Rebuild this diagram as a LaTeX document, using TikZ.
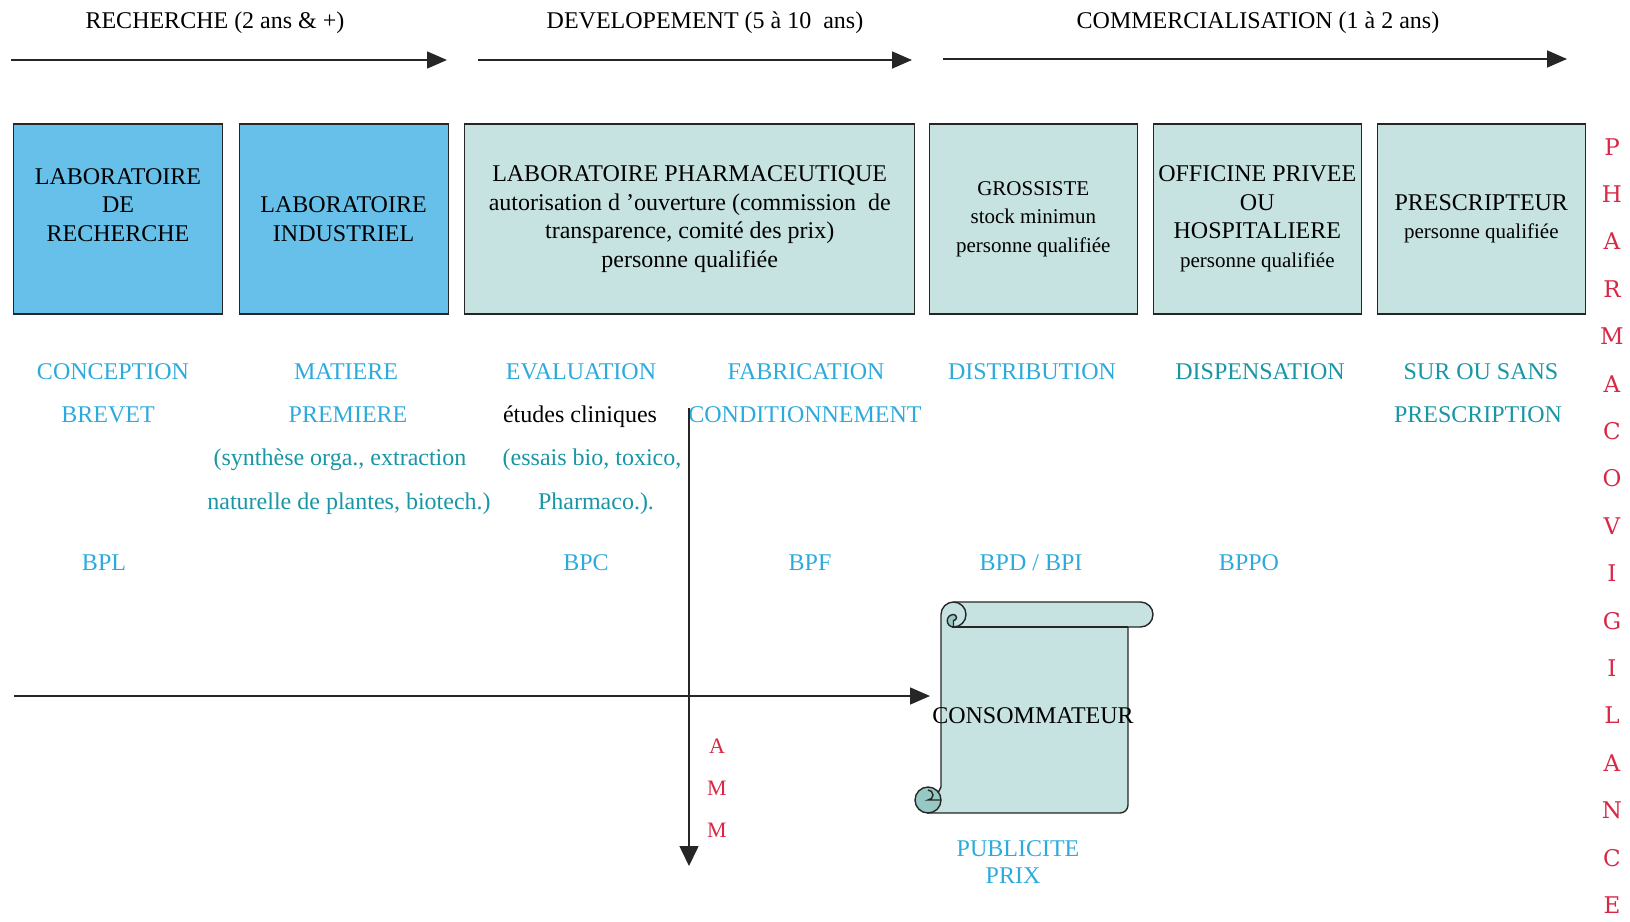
\documentclass[tikz,border=0pt]{standalone}
\usepackage{fontspec}
\setmainfont{Liberation Serif}
\newfontfamily\vigfont{DejaVu Serif}
\usetikzlibrary{arrows.meta, positioning}
\definecolor{boxblue}{RGB}{102,192,234}
\definecolor{boxteal}{RGB}{198,227,225}
\definecolor{curlteal}{RGB}{150,200,196}
\definecolor{lblblue}{RGB}{45,170,220}
\definecolor{lblteal}{RGB}{25,150,165}
\definecolor{ammred}{RGB}{215,40,70}
\newcommand{\smalltxt}{\fontsize{21}{25}\selectfont}
\tikzset{block/.style = {draw=black!85, line width=1.2pt, rectangle,
		minimum height=190pt, align=center, inner sep=0pt,
		font=\fontsize{24}{28.5}\selectfont},
	labblock/.style = {block, fill=boxblue, minimum width=209pt},
	tealblock/.style = {block, fill=boxteal, minimum width=208pt}
}
\begin{document}
\begin{tikzpicture}[x=1pt, y=-1pt,
					arrow/.style={-{Triangle[length=20pt, width=17pt]}, line width=1.6pt, draw=black!85},
					phase/.style={anchor=base, inner sep=0pt, font=\fontsize{24}{28}\selectfont},
					lbl/.style={anchor=base, inner sep=0pt, text=lblblue, font=\fontsize{24}{28}\selectfont},
					lblt/.style={lbl, text=lblteal},
					scrollline/.style={line width=1.4pt, draw=black!85}
					]
					\useasboundingbox (0,0) rectangle (1630,921);

					% phases
					\node[phase] (recherche) at (215,28) {RECHERCHE (2 ans \& +)};
					\node[phase] (develop) at (705,28) {DEVELOPEMENT (5 à 10~ ans)};
					\node[phase] (commerc) at (1258,28) {COMMERCIALISATION (1 à 2 ans)};
					\coordinate (rech0) at (10.5,60);
					\coordinate (rech1) at (447,60);
					\coordinate (dev0) at (478,60);
					\coordinate (dev1) at (912,60);
					\coordinate (com0) at (943,59);
					\coordinate (com1) at (1567,59);

					% acteurs
					\node[labblock] (labrech) at (118,219) {LABORATOIRE\\DE\\RECHERCHE\\\mbox{}};
					\node[labblock, right=15.4pt of labrech] (labind) {LABORATOIRE\\INDUSTRIEL};
					\node[block, fill=boxteal, minimum width=450pt, right=15.4pt of labind] (labpharma) {LABORATOIRE PHARMACEUTIQUE\\autorisation d 'ouverture (commission~ de\\transparence, comité des prix)\\personne qualifiée};
					\node[tealblock, right=13.4pt of labpharma] (grossiste) {\smalltxt GROSSISTE\\{\smalltxt stock minimun}\\{\smalltxt personne qualifiée}};
					\node[tealblock, right=14.8pt of grossiste] (officine) {OFFICINE PRIVEE\\OU\\HOSPITALIERE\\{\smalltxt personne qualifiée}};
					\node[tealblock, right=14.8pt of officine] (prescripteur) {PRESCRIPTEUR\\{\smalltxt personne qualifiée}};

					% etapes
					\node[lbl] (conception) at (113,379) {CONCEPTION};
					\node[lbl] (brevet) at (108,422) {BREVET};
					\node[lbl] (matiere) at (346,379) {MATIERE};
					\node[lbl] (premiere) at (348,422) {PREMIERE};
					\node[lblt] (synthese) at (340,465) {(synthèse orga., extraction};
					\node[lblt] (naturelle) at (349,509) {naturelle de plantes, biotech.)};
					\node[lbl] (evaluation) at (581,379) {EVALUATION};
					\node[lbl, text=black] (etudes) at (580,422) {études cliniques};
					\node[lblt] (essais) at (592,465) {(essais bio, toxico,};
					\node[lblt] (pharmaco) at (596,509) {Pharmaco.).};
					\node[lbl] (fabrication) at (806,379) {FABRICATION};
					\node[lbl] (condition) at (805,422) {CONDITIONNEMENT};
					\node[lbl] (distribution) at (1032,379) {DISTRIBUTION};
					\node[lblt] (dispensation) at (1260,379) {DISPENSATION};
					\node[lblt] (surousans) at (1481,379) {SUR OU SANS};
					\node[lblt] (prescription) at (1478,422) {PRESCRIPTION};

					% bonnes pratiques
					\node[lbl] (bpl) at (104,570) {BPL};
					\node[lbl] (bpc) at (586,570) {BPC};
					\node[lbl] (bpf) at (810,570) {BPF};
					\node[lbl] (bpd) at (1031,570) {BPD / BPI};
					\node[lbl] (bppo) at (1249,570) {BPPO};

					% consommateur (parchemin)
					\filldraw[scrollline, fill=boxteal] (941,614.5) arc[start angle=180, end angle=270, radius=12.5] -- (1140.5,602)
						arc[start angle=-90, end angle=90, radius=12.5] -- (1128,627) -- (1128,805)
						arc[start angle=0, end angle=90, radius=8] -- (928,813) -- (941,787) -- cycle;
					\draw[scrollline] (952,627) -- (1128,627);
					\draw[scrollline] (953.5,602) arc[start angle=-90, end angle=90, radius=12.5];
					\filldraw[scrollline, fill=curlteal] (953.5,627) arc[start angle=90, end angle=270, radius=6.25]
						arc[start angle=-90, end angle=90, radius=3] -- cycle;
					\filldraw[scrollline, fill=curlteal] (928,800) circle[radius=13];
					\draw[scrollline] (941,800) -- (928,800) arc[start angle=90, end angle=-90, radius=5];
					\node[phase] (consomm) at (1033,723) {CONSOMMATEUR};
					\node[lbl] (publicite) at (1018,856) {PUBLICITE};
					\node[lbl] (prix) at (1013,883) {PRIX};
					\coordinate (flux0) at (13.5,696);
					\coordinate (flux1) at (930,696);

					% AMM
					\coordinate (amm0) at (689,408);
					\coordinate (amm1) at (689,866);
					\node[align=center, inner sep=0pt, text=ammred, font=\fontsize{22}{42}\selectfont] (amm) at (717,788) {A\\M\\M};

					% pharmacovigilance
					\node[align=center, inner sep=0pt, text=ammred, font=\vigfont\fontsize{23}{47.4}\selectfont] (vigilance) at (1612,526)
						{P\\H\\A\\R\\M\\A\\C\\O\\V\\I\\G\\I\\L\\A\\N\\C\\E};

					% Connections
					\draw[arrow] (rech0) -- (rech1);
					\draw[arrow] (dev0) -- (dev1);
					\draw[arrow] (com0) -- (com1);
					\draw[arrow] (flux0) -- (flux1);
					\draw[arrow, -{Triangle[length=20pt, width=19pt]}] (amm0) -- (amm1);

				\end{tikzpicture}
\end{document}
